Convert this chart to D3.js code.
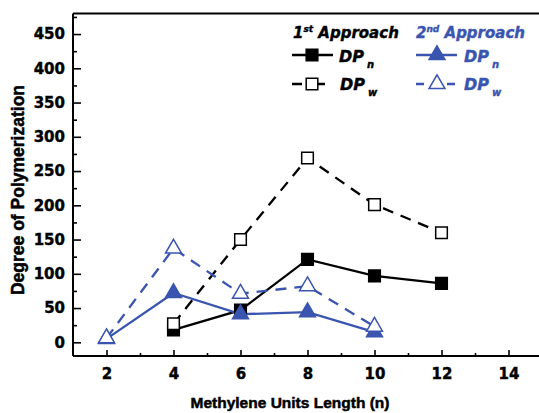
<!DOCTYPE html>
<html>
<head>
<meta charset="utf-8">
<script src="https://cdn.jsdelivr.net/npm/d3@7/dist/d3.min.js"></script>
<style>
  html, body { margin: 0; padding: 0; background: #fff; }
  svg { display: block; }
</style>
</head>
<body>
<script>
// ---- data ----
const firstX = [4, 6, 8, 10, 12];
const firstDPn = [18, 47, 121, 97, 86];
const firstDPw = [27, 150, 269, 201, 160];
const secondX = [2, 4, 6, 8, 10];
const secondDPn = [5, 72, 41, 44, 15];
const secondDPw = [6, 137, 71, 82, 23];
const xTicks = [2, 4, 6, 8, 10, 12, 14];
const yTicks = [0, 50, 100, 150, 200, 250, 300, 350, 400, 450];

const W = 539, H = 413;
const black = "#000";
const blue = "#3a55b0";

const svg = d3.select("body").append("svg").attr("width", W).attr("height", H);

const x = d3.scaleLinear().domain([1, 15]).range([73, 542]);
const y = d3.scaleLinear().domain([-20, 480]).range([356, 13.5]);

// frame
const frame = svg.append("g").attr("stroke", "#000").attr("stroke-width", 2).attr("fill", "none");
frame.append("line").attr("x1", x(1)).attr("x2", x(15)).attr("y1", y(480)).attr("y2", y(480));
frame.append("line").attr("x1", x(1)).attr("x2", x(15)).attr("y1", y(-20)).attr("y2", y(-20));
frame.append("line").attr("x1", x(1)).attr("x2", x(1)).attr("y1", y(-20)).attr("y2", y(480));

// axes
const xAxis = d3.axisBottom(x).tickValues(xTicks).tickSize(-6).tickPadding(12).tickFormat(d3.format("d"));
const gx = svg.append("g").attr("transform", `translate(0,${y(-20)})`).call(xAxis);
gx.select(".domain").remove();
gx.selectAll(".tick line").attr("stroke", "#000").attr("stroke-width", 1.6);
gx.selectAll(".tick text").attr("font-family", "DejaVu Sans").attr("font-weight", "bold")
  .attr("font-size", 15).attr("fill", "#000").attr("stroke", "#000").attr("stroke-width", 0.4);

const xMinor = d3.axisBottom(x).tickValues([3, 5, 7, 9, 11, 13]).tickSize(-3).tickFormat("");
const gxm = svg.append("g").attr("transform", `translate(0,${y(-20)})`).call(xMinor);
gxm.select(".domain").remove();
gxm.selectAll(".tick line").attr("stroke", "#000").attr("stroke-width", 1.6);

const yAxis = d3.axisLeft(y).tickValues(yTicks).tickSize(-8).tickPadding(8).tickFormat(d3.format("d"));
const gy = svg.append("g").attr("transform", `translate(${x(1)},0)`).call(yAxis);
gy.select(".domain").remove();
gy.selectAll(".tick line").attr("stroke", "#000").attr("stroke-width", 1.6);
gy.selectAll(".tick text").attr("font-family", "DejaVu Sans").attr("font-weight", "bold")
  .attr("font-size", 15).attr("fill", "#000").attr("stroke", "#000").attr("stroke-width", 0.4);

const yMinor = d3.axisLeft(y).tickValues([25, 75, 125, 175, 225, 275, 325, 375, 425, 475]).tickSize(-4).tickFormat("");
const gym = svg.append("g").attr("transform", `translate(${x(1)},0)`).call(yMinor);
gym.select(".domain").remove();
gym.selectAll(".tick line").attr("stroke", "#000").attr("stroke-width", 1.6);

// axis titles
svg.append("text").attr("x", 290).attr("y", 408).attr("text-anchor", "middle")
  .attr("font-family", "Liberation Sans, Arial").attr("font-weight", "bold").attr("font-size", 15.5)
  .attr("stroke", "#000").attr("stroke-width", 0.5)
  .text("Methylene Units Length (n)");
svg.append("text").attr("transform", "translate(24,190) rotate(-90)").attr("text-anchor", "middle")
  .attr("font-family", "Liberation Sans, Arial").attr("font-weight", "bold").attr("font-size", 17.5)
  .attr("stroke", "#000").attr("stroke-width", 0.5)
  .text("Degree of Polymerization");

// series
const line = d3.line().x(d => x(d[0])).y(d => y(d[1]));
const zip = (xs, ys) => xs.map((v, i) => [v, ys[i]]);

const series = [
  { pts: zip(firstX, firstDPn), color: black, dash: null, marker: "square", fill: black },
  { pts: zip(firstX, firstDPw), color: black, dash: "11,8", marker: "square", fill: "#fff" },
  { pts: zip(secondX, secondDPn), color: blue, dash: null, marker: "triangle", fill: blue },
  { pts: zip(secondX, secondDPw), color: blue, dash: "11,8", marker: "triangle", fill: "#fff" }
];

const sqSym = d3.symbol().type(d3.symbolSquare).size(135);
const triSym = d3.symbol().type(d3.symbolTriangle).size(110);

series.forEach(s => {
  svg.append("path").attr("d", line(s.pts)).attr("fill", "none")
    .attr("stroke", s.color).attr("stroke-width", 2.3)
    .attr("stroke-dasharray", s.dash);
});
// markers: filled first, open on top
[0, 1, 2, 3].forEach(i => {
  const s = series[i];
  svg.append("g").selectAll("path").data(s.pts).join("path")
    .attr("transform", d => `translate(${x(d[0])},${y(d[1])})`)
    .attr("d", s.marker === "square" ? sqSym() : triSym())
    .attr("fill", s.fill).attr("stroke", s.color).attr("stroke-width", 1.5);
});

// legend
const lg = svg.append("g").attr("font-family", "DejaVu Sans").attr("font-weight", "bold").attr("font-style", "italic");

function header(xp, num, sup, color) {
  const t = lg.append("text").attr("x", xp).attr("y", 38).attr("font-size", 15).attr("fill", color)
    .attr("stroke", color).attr("stroke-width", 0.4);
  t.append("tspan").text(num);
  t.append("tspan").attr("font-size", 9).attr("dy", -6).text(sup);
  t.append("tspan").attr("dy", 6).text(" Approach");
}
header(293, "1", "st", black);
header(416, "2", "nd", blue);

function dpLabel(xp, yb, sub, color) {
  const t = lg.append("text").attr("x", xp).attr("y", yb).attr("font-size", 16).attr("fill", color)
    .attr("stroke", color).attr("stroke-width", 0.4);
  t.append("tspan").text("DP");
  t.append("tspan").attr("font-size", 10).attr("dx", 3).attr("dy", 6).text(sub);
}

// black rows
lg.append("line").attr("x1", 292).attr("x2", 333).attr("y1", 55).attr("y2", 55).attr("stroke", black).attr("stroke-width", 2.3);
lg.append("path").attr("transform", "translate(312,55)").attr("d", sqSym()).attr("fill", black).attr("stroke", black).attr("stroke-width", 1.5);
dpLabel(339, 62, "n", black);
lg.append("line").attr("x1", 292).attr("x2", 325).attr("y1", 84).attr("y2", 84).attr("stroke", black).attr("stroke-width", 2.3).attr("stroke-dasharray", "10,13");
lg.append("path").attr("transform", "translate(312,84)").attr("d", sqSym()).attr("fill", "#fff").attr("stroke", black).attr("stroke-width", 1.5);
dpLabel(340, 90, "w", black);

// blue rows
lg.append("line").attr("x1", 416).attr("x2", 457).attr("y1", 55).attr("y2", 55).attr("stroke", blue).attr("stroke-width", 2.3);
lg.append("path").attr("transform", "translate(437,55)").attr("d", triSym()).attr("fill", blue).attr("stroke", blue).attr("stroke-width", 1.5);
dpLabel(464, 62, "n", blue);
lg.append("line").attr("x1", 416).attr("x2", 455).attr("y1", 84).attr("y2", 84).attr("stroke", blue).attr("stroke-width", 2.3).attr("stroke-dasharray", "8,23");
lg.append("path").attr("transform", "translate(437,84)").attr("d", triSym()).attr("fill", "#fff").attr("stroke", blue).attr("stroke-width", 1.5);
dpLabel(464, 90, "w", blue);
</script>
</body>
</html>
